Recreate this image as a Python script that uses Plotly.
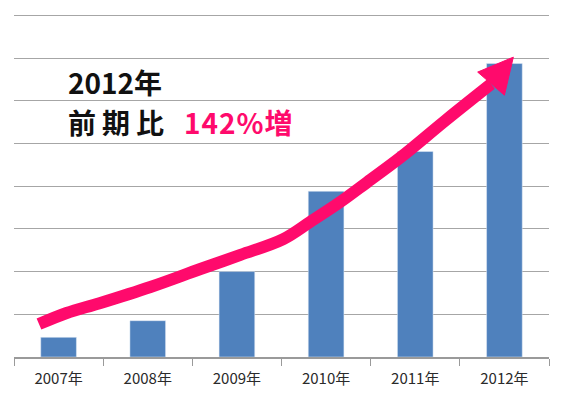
import plotly.graph_objects as go

years = ["2007年", "2008年", "2009年", "2010年", "2011年", "2012年"]
values = [0.46, 0.85, 2.0, 3.88, 4.81, 6.87]

# decorative trend arrow (in axis units: x = category index, y = value)
arrow_x = [-0.22, 0.09, 0.46, 1.03, 1.59, 2.04, 2.52, 2.82, 3.16, 3.46, 3.84, 4.34, 4.85]
arrow_y = [0.77, 1.03, 1.26, 1.64, 2.06, 2.39, 2.76, 3.16, 3.63, 4.09, 4.68, 5.54, 6.39]
head_x = [4.70, 5.10, 5.00, 4.70]
head_y = [6.67, 7.02, 6.13, 6.67]

PINK = "#FF0A6C"
BLUE = "#4F81BD"
FONT = "Noto Sans CJK JP"

W, H = 562, 395
ML, MR, MT, MB = 14, 13, 14, 38
YMAX = 8.03

fig = go.Figure()
fig.add_trace(go.Bar(x=years, y=values, marker_color=BLUE, width=0.4,
                     hoverinfo="skip", showlegend=False))
fig.add_trace(go.Scatter(x=arrow_x, y=arrow_y, mode="lines", xaxis="x2", yaxis="y2",
                         line=dict(color=PINK, width=12, shape="spline", smoothing=1.0),
                         hoverinfo="skip", showlegend=False))
fig.add_trace(go.Scatter(x=head_x, y=head_y, mode="lines", xaxis="x2", yaxis="y2",
                         fill="toself", fillcolor=PINK, line=dict(color=PINK, width=1),
                         hoverinfo="skip", showlegend=False))

fig.update_layout(
    width=W, height=H,
    margin=dict(l=ML, r=MR, t=MT, b=MB, pad=0),
    paper_bgcolor="white", plot_bgcolor="white",
    font=dict(family=FONT, color="#222222"),
    xaxis=dict(type="category", range=[-0.5, 5.5], showgrid=False, automargin=False,
               showline=True, linecolor="#9a9a9a", linewidth=1.5,
               ticks="outside", tickson="boundaries", ticklen=7, tickcolor="#9a9a9a",
               ticklabelstandoff=7,
               tickfont=dict(size=15, color="#2a2a2a", family=FONT)),
    yaxis=dict(range=[0, YMAX], dtick=1, showgrid=True, gridcolor="#a6a6a6", gridwidth=1.2,
               showticklabels=False, zeroline=False, showline=False, ticks="",
               automargin=False),
    xaxis2=dict(overlaying="x", range=[-0.5, 5.5], visible=False),
    yaxis2=dict(overlaying="y", range=[0, YMAX], visible=False),
)

plot_w = W - ML - MR
plot_h = H - MT - MB
texts = [("<b>2012年</b>", 66, 82, "#111111", 0),
         ("<b>前期比</b>", 66, 122, "#111111", 6),
         ("<b>142%増</b>", 182, 122, PINK, 1)]
anns = []
for t, px, py, col, ls in texts:
    if ls:
        t = f'<span style="letter-spacing:{ls}px">{t}</span>'
    anns.append(dict(text=t, xref="paper", yref="paper", showarrow=False,
                     x=(px - ML) / plot_w, y=1 - (py - MT) / plot_h,
                     xanchor="left", yanchor="middle",
                     font=dict(size=28, color=col, family=FONT)))
fig.update_layout(annotations=anns)

fig.write_html("out.html", config={"displayModeBar": False},
               post_script="document.body.style.margin='0';")
